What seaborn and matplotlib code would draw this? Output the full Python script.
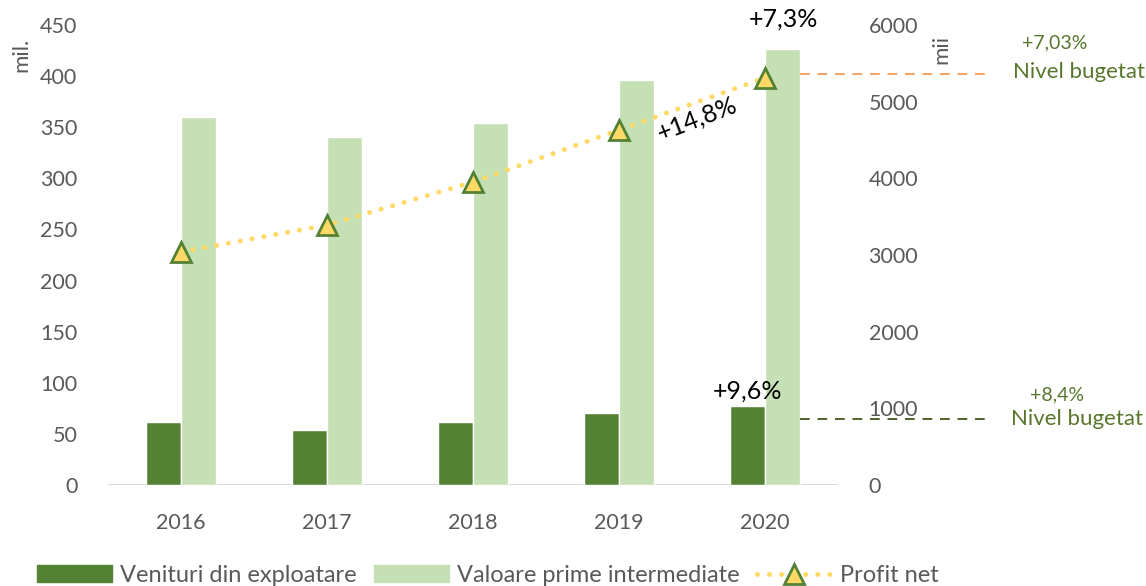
import numpy as np
import pandas as pd
import seaborn as sns
import matplotlib.pyplot as plt
from matplotlib.transforms import blended_transform_factory

# values
years = ["2016", "2017", "2018", "2019", "2020"]
venituri = [62, 54, 62, 70, 77]            # mil. (left axis)
valoare_prime = [360, 340, 354, 396, 426]  # mil. (left axis)
profit_net = [3040, 3390, 3950, 4630, 5310]  # mii (right axis)

budget_venituri = 64.5   # left axis
budget_profit = 5365     # right axis

series_names = ["Venituri din exploatare", "Valoare prime intermediate"]
palette = {"Venituri din exploatare": "#548235", "Valoare prime intermediate": "#c5e0b4"}
gold = "#ffd966"
grey = "#595959"
text_green = "#58772d"

df = pd.DataFrame({
    "An": years * 2,
    "Serie": [series_names[0]] * 5 + [series_names[1]] * 5,
    "Valoare": venituri + valoare_prime,
})

sns.set_style("white")
plt.rcParams["font.family"] = ["Lato", "DejaVu Sans"]

fig = plt.figure(figsize=(11.46, 5.86), dpi=100)
ax = fig.add_axes([0.0942, 0.1724, 0.637, 0.785])

sns.barplot(data=df, x="An", y="Valoare", hue="Serie", palette=palette,
            width=0.48, gap=0, saturation=1, ax=ax, legend=False)
ax.set_ylim(0, 450)
ax.set_yticks(range(0, 451, 50))
ax.set_xlim(-0.5, 4.5)
ax.set_xlabel("")
ax.set_ylabel("")

ax2 = ax.twinx()
sns.lineplot(x=np.arange(len(years)), y=profit_net, ax=ax2, color=gold,
             linewidth=3.6, linestyle=(0, (0.01, 2.4)), dash_capstyle="round",
             marker="^", markersize=15, markerfacecolor=gold,
             markeredgecolor="#548235", markeredgewidth=2)
ax2.set_ylim(0, 6000)
ax2.set_yticks(range(0, 6001, 1000))
ax2.set_ylabel("")

for a in (ax, ax2):
    for s in a.spines.values():
        s.set_visible(False)
    a.tick_params(length=0, labelsize=15.5, labelcolor=grey)
ax.tick_params(axis="x", pad=20)
ax.tick_params(axis="y", pad=22)
ax2.tick_params(axis="y", pad=22)
ax.axhline(0, color="#d9d9d9", linewidth=1.5, zorder=0)

# axis unit labels
ax.text(-0.118, 0.935, "mil.", transform=ax.transAxes, rotation=90,
        ha="center", va="center", fontsize=16, color=grey)
ax2.text(1.142, 0.946, "mii", transform=ax2.transAxes, rotation=90,
         ha="center", va="center", fontsize=16, color=grey)

# growth labels
ax2.annotate("+7,3%", xy=(4, profit_net[4]), xytext=(13, 42),
             textcoords="offset points", ha="center", va="center",
             fontsize=18, color="black")
ax2.annotate("+14,8%", xy=(3, profit_net[3]), xytext=(56, 8),
             textcoords="offset points", ha="center", va="center",
             fontsize=18, rotation=21, color="black")
ax.annotate("+9,6%", xy=(3.88, venituri[4]), xytext=(0, 3),
            textcoords="offset points", ha="center", va="bottom",
            fontsize=18, color="black")

# budget lines extending past the plot
tr1 = blended_transform_factory(ax.transAxes, ax.transData)
tr2 = blended_transform_factory(ax2.transAxes, ax2.transData)
ax2.plot([0.948, 1.21], [budget_profit] * 2, transform=tr2, clip_on=False,
         color="#f4a261", linestyle=(0, (5, 4)), linewidth=1.4)
ax.plot([0.948, 1.21], [budget_venituri] * 2, transform=tr1, clip_on=False,
        color="#4f6228", linestyle=(0, (5, 4)), linewidth=1.4)

fig.text(0.920, 0.926, "+7,03%", ha="center", va="center", fontsize=14, color=text_green)
fig.text(0.884, 0.877, "Nivel bugetat", ha="left", va="center", fontsize=16, color=text_green)
fig.text(0.922, 0.327, "+8,4%", ha="center", va="center", fontsize=14, color=text_green)
fig.text(0.882, 0.285, "Nivel bugetat", ha="left", va="center", fontsize=16, color=text_green)

# legend at the bottom
handles = [
    plt.Rectangle((0, 0), 1, 1, color=palette[series_names[0]]),
    plt.Rectangle((0, 0), 1, 1, color=palette[series_names[1]]),
    ax2.get_lines()[0],
]
labels = series_names + ["Profit net"]
fig.legend(handles, labels, loc="center left", bbox_to_anchor=(0.032, 0.018),
           ncol=3, frameon=False, fontsize=17, labelcolor=grey,
           handlelength=3.2, handleheight=0.75, handletextpad=0.35,
           columnspacing=0.7, borderpad=0, borderaxespad=0)

fig.savefig("out.png", dpi=100)
